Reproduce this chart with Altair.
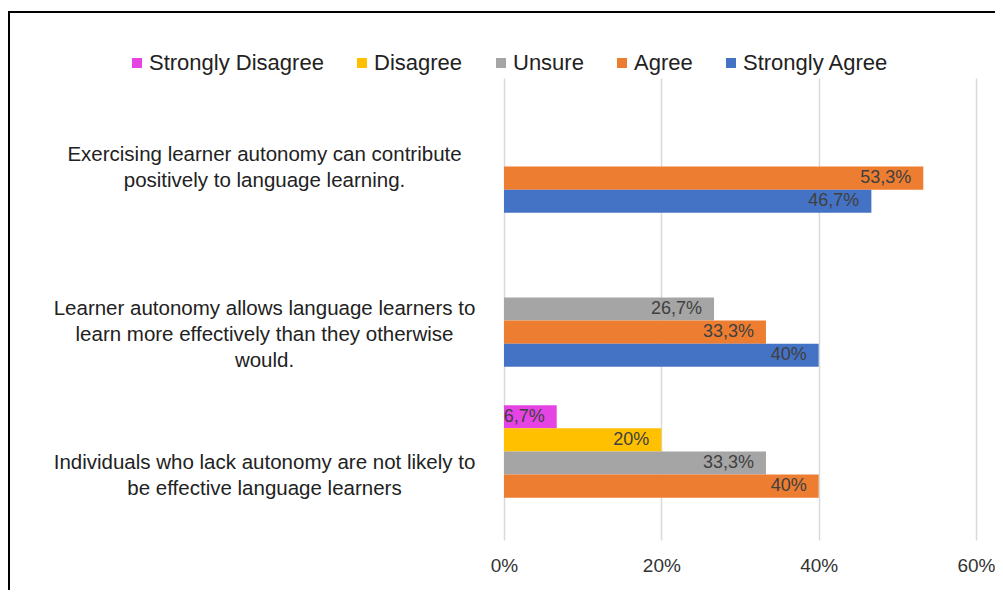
import altair as alt
import pandas as pd

categories = [
    "Exercising learner autonomy can contribute|positively to language learning.",
    "Learner autonomy allows language learners to|learn more effectively than they otherwise|would.",
    "Individuals who lack autonomy are not likely to|be effective language learners",
]
series = ["Strongly Disagree", "Disagree", "Unsure", "Agree", "Strongly Agree"]
colors = ["#E643E4", "#FFC000", "#A5A5A5", "#ED7D31", "#4472C4"]

strongly_disagree = [0, 0, 6.7]
disagree = [0, 0, 20]
unsure = [0, 26.7, 33.3]
agree = [53.3, 33.3, 40]
strongly_agree = [46.7, 40, 0]

labels_sd = ["", "", "6,7%"]
labels_d = ["", "", "20%"]
labels_u = ["", "26,7%", "33,3%"]
labels_a = ["53,3%", "33,3%", "40%"]
labels_sa = ["46,7%", "40%", ""]

rows = []
for s, vals, labs in zip(
    series,
    [strongly_disagree, disagree, unsure, agree, strongly_agree],
    [labels_sd, labels_d, labels_u, labels_a, labels_sa],
):
    for c, v, l in zip(categories, vals, labs):
        if v > 0:
            rows.append({"category": c, "series": s, "value": v, "label": l})
df = pd.DataFrame(rows)

FONT = "Liberation Sans"

y_enc = alt.Y(
    "category:N",
    sort=categories,
    scale=alt.Scale(paddingInner=0.25, paddingOuter=0.125),
    axis=alt.Axis(
        title=None,
        labelExpr="split(datum.label, '|')",
        labelAlign="center",
        labelBaseline="middle",
        labelPadding=240,
        labelLimit=0,
        labelFontSize=20.5,
        labelLineHeight=26,
        labelColor="#222222",
        labelFont=FONT,
        ticks=False,
        domain=False,
        grid=False,
    ),
)
yoff_enc = alt.YOffset(
    "series:N", sort=series, scale=alt.Scale(domain=series, paddingInner=0, paddingOuter=0)
)
x_enc = alt.X(
    "value:Q",
    scale=alt.Scale(domain=[0, 60]),
    axis=alt.Axis(
        title=None,
        values=[0, 20, 40, 60],
        labelExpr="datum.value + '%'",
        labelFontSize=19,
        labelFont=FONT,
        labelColor="#333333",
        labelPadding=16,
        labelFlush=False,
        ticks=False,
        domain=False,
        grid=True,
        gridColor="#D9D9D9",
        gridWidth=1.5,
    ),
)

bars = alt.Chart(df).mark_bar().encode(
    y=y_enc,
    yOffset=yoff_enc,
    x=x_enc,
    color=alt.Color(
        "series:N",
        sort=series,
        scale=alt.Scale(domain=series, range=colors),
        legend=alt.Legend(
            title=None,
            orient="none",
            legendX=-378,
            legendY=-26,
            direction="horizontal",
            symbolType="square",
            symbolSize=100,
            symbolStrokeWidth=0,
            labelFontSize=22,
            labelFont=FONT,
            labelColor="#222222",
            labelOffset=1,
            columnPadding=27,
            labelLimit=0,
        ),
    ),
)

text = alt.Chart(df).mark_text(
    align="right", baseline="middle", dx=-12, fontSize=18, font=FONT, color="#404040"
).encode(
    y=alt.Y("category:N", sort=categories),
    yOffset=alt.YOffset("series:N", sort=series),
    x=alt.X("value:Q"),
    text="label:N",
)

frame_src = pd.DataFrame({"k": [0]})
frame_top = alt.Chart(frame_src).mark_rule(color="black", strokeWidth=2).encode(
    x=alt.value(-496), x2=alt.value(491), y=alt.value(-66)
)
frame_left = alt.Chart(frame_src).mark_rule(color="black", strokeWidth=2).encode(
    x=alt.value(-495), y=alt.value(-66), y2=alt.value(512)
)

chart = (
    alt.layer(bars, text, frame_top, frame_left)
    .properties(
        width=472,
        height=462,
        autosize=alt.AutoSizeParams(type="none"),
        padding={"left": 496, "top": 70, "right": 19, "bottom": 50},
        background="white",
    )
    .configure_view(stroke=None)
)

chart.save("out.html", embed_options={"renderer": "svg", "actions": False})
